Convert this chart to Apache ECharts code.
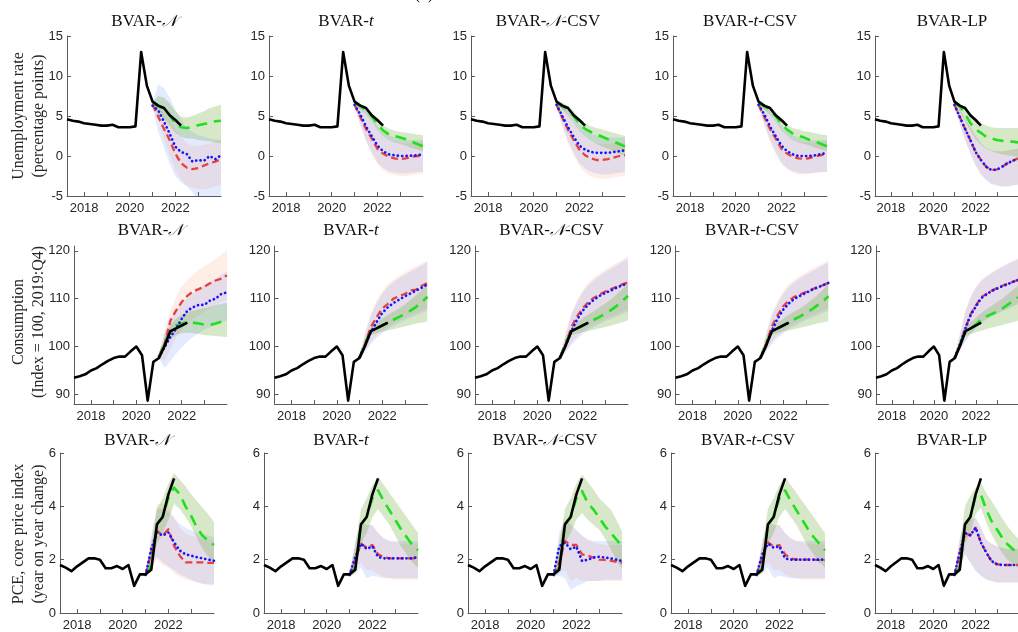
<!DOCTYPE html>
<html>
<head>
<meta charset="utf-8">
<script src="https://cdn.jsdelivr.net/npm/echarts@6/dist/echarts.min.js"></script>
<style>
  html, body { margin: 0; padding: 0; background: #fff; }
  #chart { width: 1018px; height: 632px; }
</style>
</head>
<body>
<div id="chart"></div>
<script>
// ---------- Data ----------
const models = ['BVAR-{cal|𝒩}', 'BVAR-{it|t}', 'BVAR-{cal|𝒩}-CSV', 'BVAR-{it|t}-CSV', 'BVAR-LP'];

// Observed quarters and forecast quarters
const histQuarters = ['2017Q1','2017Q2','2017Q3','2017Q4','2018Q1','2018Q2','2018Q3','2018Q4',
  '2019Q1','2019Q2','2019Q3','2019Q4','2020Q1','2020Q2','2020Q3','2020Q4',
  '2021Q1','2021Q2','2021Q3','2021Q4','2022Q1'];
const fcQuarters = ['2020Q4','2021Q1','2021Q2','2021Q3','2021Q4','2022Q1','2022Q2','2022Q3',
  '2022Q4','2023Q1','2023Q2','2023Q3','2023Q4'];

const xLabelYears = [2018, 2020, 2022];
const xTickYears = [2018, 2019, 2020, 2021, 2022, 2023];

// Unemployment rate
const unempActual = [4.6, 4.4, 4.3, 4.1, 4.0, 3.9, 3.8, 3.8, 3.9, 3.6, 3.6, 3.6, 3.7, 13.0, 8.8, 6.8, 6.3, 6.0, 5.1, 4.5, 3.8];
const unempRed = [
  [6.4, 4.9, 3.4, 2.0, 0.3, -0.9, -1.45, -1.65, -1.5, -1.2, -0.9, -0.7, -0.4],
  [6.4, 4.9, 3.4, 2.2, 0.9, 0.3, -0.1, -0.3, -0.4, -0.3, -0.1, 0.0, 0.0],
  [6.4, 4.8, 3.3, 2.0, 0.8, 0.1, -0.3, -0.5, -0.5, -0.4, -0.2, 0.0, 0.1],
  [6.4, 4.9, 3.4, 2.2, 0.9, 0.3, -0.1, -0.3, -0.35, -0.25, -0.05, 0.1, 0.3],
  [6.4, 4.9, 3.4, 2.0, 0.5, -0.5, -1.35, -1.75, -1.7, -1.35, -0.9, -0.6, -0.3]
];
const unempBlue = [
  [6.3, 5.7, 4.3, 2.8, 1.15, 0.5, 0.25, -0.7, -0.5, -0.6, 0.0, -0.4, 0.1],
  [6.4, 5.2, 3.7, 2.5, 1.3, 0.6, 0.2, 0.1, 0.0, 0.0, 0.05, 0.1, 0.2],
  [6.4, 5.0, 3.6, 2.4, 1.3, 0.8, 0.5, 0.4, 0.4, 0.4, 0.5, 0.6, 0.7],
  [6.4, 5.2, 3.7, 2.5, 1.3, 0.6, 0.2, 0.0, 0.0, 0.0, 0.1, 0.25, 0.4],
  [6.4, 4.9, 3.4, 2.0, 0.5, -0.5, -1.35, -1.75, -1.7, -1.35, -0.9, -0.6, -0.3]
];
const unempGreen = [
  [6.6, 6.2, 5.9, 5.1, 4.0, 3.6, 3.5, 3.65, 3.85, 4.0, 4.1, 4.35, 4.4],
  [6.6, 6.2, 5.8, 5.0, 4.0, 3.2, 2.7, 2.5, 2.3, 2.1, 1.8, 1.5, 1.2],
  [6.6, 6.2, 5.8, 5.0, 4.0, 3.4, 3.0, 2.7, 2.4, 2.1, 1.8, 1.5, 1.2],
  [6.6, 6.2, 5.8, 5.0, 4.0, 3.3, 2.8, 2.5, 2.3, 2.0, 1.8, 1.5, 1.2],
  [6.6, 6.2, 5.3, 4.1, 3.3, 2.9, 2.4, 2.2, 2.0, 1.9, 1.8, 1.8, 1.7]
];
const unempGreenHi = [
  [6.7, 7.5, 7.3, 6.6, 5.6, 4.9, 4.8, 5.0, 5.3, 5.6, 6.0, 6.2, 6.4],
  [6.7, 6.5, 6.2, 5.5, 4.5, 3.8, 3.4, 3.2, 3.0, 2.9, 2.8, 2.7, 2.6],
  [6.7, 6.6, 6.3, 5.6, 4.7, 4.1, 3.7, 3.5, 3.3, 3.1, 2.9, 2.7, 2.5],
  [6.7, 6.5, 6.2, 5.5, 4.5, 3.9, 3.5, 3.3, 3.1, 3.0, 2.8, 2.7, 2.6],
  [6.7, 6.5, 6.0, 5.3, 4.6, 4.1, 3.8, 3.6, 3.5, 3.5, 3.5, 3.5, 3.5]
];
const unempGreenLo = [
  [6.5, 5.2, 4.6, 3.8, 2.9, 2.4, 2.2, 2.2, 2.0, 1.9, 1.8, 1.7, 1.6],
  [6.5, 5.8, 5.2, 4.3, 3.2, 2.5, 2.0, 1.7, 1.5, 1.3, 1.0, 0.8, 0.6],
  [6.5, 5.8, 5.1, 4.2, 3.1, 2.4, 1.9, 1.5, 1.2, 0.9, 0.6, 0.3, 0.0],
  [6.5, 5.8, 5.2, 4.3, 3.2, 2.5, 2.0, 1.7, 1.5, 1.3, 1.0, 0.8, 0.6],
  [6.5, 5.6, 4.4, 3.2, 2.1, 1.4, 0.9, 0.6, 0.4, 0.2, 0.1, 0.0, -0.1]
];
const unempRedHi = [
  [6.5, 6.5, 5.6, 4.5, 3.3, 2.4, 1.6, 1.3, 1.3, 1.4, 1.6, 1.8, 2.0],
  [6.5, 6.2, 5.3, 4.3, 3.2, 2.5, 2.1, 1.8, 1.6, 1.6, 1.6, 1.7, 1.8],
  [6.5, 6.2, 5.3, 4.2, 3.1, 2.3, 1.8, 1.6, 1.5, 1.5, 1.6, 1.7, 1.8],
  [6.5, 6.2, 5.3, 4.3, 3.2, 2.5, 2.1, 1.8, 1.7, 1.7, 1.7, 1.8, 1.9],
  [6.5, 5.8, 4.7, 3.6, 2.5, 1.6, 1.0, 0.7, 0.6, 0.6, 0.7, 0.8, 0.9]
];
const unempRedLo = [
  [6.2, 4.5, 2.0, 0.0, -1.8, -3.0, -3.7, -4.0, -4.2, -4.2, -4.0, -3.8, -3.6],
  [6.2, 3.8, 1.8, 0.2, -1.0, -1.8, -2.2, -2.4, -2.5, -2.5, -2.4, -2.3, -2.2],
  [6.2, 3.7, 1.6, 0.0, -1.3, -2.1, -2.6, -2.8, -2.8, -2.8, -2.7, -2.6, -2.5],
  [6.2, 3.8, 1.8, 0.2, -1.0, -1.7, -2.1, -2.3, -2.3, -2.2, -2.1, -2.0, -2.0],
  [6.3, 4.0, 2.0, 0.3, -1.2, -2.3, -3.0, -3.5, -3.7, -3.8, -3.8, -3.7, -3.6]
];
const unempBlueHi = [
  [6.5, 9.0, 8.5, 7.3, 5.8, 4.6, 3.5, 3.0, 2.6, 2.4, 2.2, 2.1, 2.0],
  [6.5, 6.5, 5.8, 4.8, 3.8, 3.0, 2.6, 2.3, 2.1, 2.0, 2.0, 2.0, 2.0],
  [6.5, 6.8, 6.0, 5.0, 4.0, 3.3, 2.8, 2.6, 2.4, 2.3, 2.3, 2.3, 2.3],
  [6.5, 6.5, 5.8, 4.8, 3.8, 3.0, 2.6, 2.3, 2.1, 2.0, 2.0, 2.0, 2.0],
  [6.5, 5.8, 4.7, 3.6, 2.5, 1.6, 1.0, 0.7, 0.6, 0.6, 0.7, 0.8, 0.9]
];
const unempBlueLo = [
  [6.1, 3.0, 1.0, -1.0, -2.5, -3.3, -3.8, -4.5, -5.5, -5.8, -5.5, -5.3, -5.2],
  [6.2, 4.0, 2.0, 0.5, -0.8, -1.5, -1.9, -2.1, -2.2, -2.2, -2.1, -2.0, -2.0],
  [6.2, 3.9, 1.9, 0.4, -0.9, -1.6, -2.0, -2.2, -2.3, -2.3, -2.2, -2.1, -2.0],
  [6.2, 4.0, 2.0, 0.5, -0.8, -1.5, -1.9, -2.1, -2.2, -2.2, -2.1, -2.0, -2.0],
  [6.3, 4.0, 2.0, 0.3, -1.2, -2.3, -3.0, -3.5, -3.7, -3.8, -3.8, -3.7, -3.6]
];

// Consumption index (2019:Q4 = 100)
const consActual = [93.5, 93.8, 94.2, 95.0, 95.5, 96.3, 97.0, 97.6, 97.9, 97.9, 99.0, 100.0, 98.2, 88.7, 96.8, 97.6, 100.2, 103.2, 103.8, 104.4, 105.0];
const consRed = [
  [98.0, 100.6, 105.4, 107.5, 109.3, 110.6, 111.5, 112.0, 112.5, 113.2, 113.8, 114.2, 114.9],
  [97.8, 100.6, 104.1, 106.1, 107.9, 108.9, 110.0, 110.5, 111.0, 111.7, 111.9, 112.7, 113.3],
  [97.8, 100.5, 104.0, 106.3, 108.0, 109.3, 110.2, 110.9, 111.5, 112.0, 112.5, 113.0, 113.4],
  [97.8, 100.6, 104.2, 106.5, 108.4, 109.6, 110.4, 110.9, 111.4, 111.9, 112.4, 112.8, 113.3],
  [97.8, 100.6, 103.9, 106.8, 108.6, 110.3, 111.0, 111.7, 112.2, 112.7, 113.1, 113.5, 113.9]
];
const consBlue = [
  [97.9, 99.9, 102.0, 103.7, 105.8, 107.5, 108.2, 108.7, 108.7, 109.6, 110.0, 111.0, 111.3],
  [97.8, 100.3, 103.0, 105.1, 107.0, 108.2, 109.1, 109.8, 110.5, 111.1, 111.7, 112.3, 113.0],
  [97.8, 100.2, 103.2, 105.6, 107.5, 108.8, 109.8, 110.6, 111.2, 111.7, 112.3, 112.8, 113.2],
  [97.8, 100.3, 103.3, 105.8, 107.7, 109.0, 110.0, 110.6, 111.2, 111.8, 112.3, 112.8, 113.3],
  [97.8, 100.5, 103.8, 106.6, 108.4, 110.1, 110.9, 111.6, 112.1, 112.6, 113.0, 113.5, 113.9]
];
const consGreen = [
  [97.8, 100.9, 103.4, 104.4, 104.8, 105.1, 105.0, 104.8, 104.6, 104.5, 104.8, 105.2, 105.4],
  [97.6, 100.9, 103.2, 103.7, 104.4, 105.0, 105.6, 106.2, 106.8, 107.5, 108.3, 109.3, 110.4],
  [97.6, 100.9, 103.2, 103.7, 104.4, 105.0, 105.6, 106.2, 106.9, 107.6, 108.5, 109.5, 110.6],
  [97.6, 100.9, 103.2, 103.7, 104.4, 105.1, 105.7, 106.3, 107.0, 107.7, 108.6, 109.5, 110.5],
  [97.6, 100.9, 103.0, 103.8, 104.6, 105.8, 106.3, 106.8, 107.3, 107.9, 108.7, 109.5, 110.3]
];
const consGreenHi = [
  [98.2, 101.8, 104.6, 105.8, 106.6, 107.2, 107.5, 107.8, 108.0, 108.3, 108.6, 108.9, 109.2],
  [97.8, 101.5, 104.0, 105.0, 105.8, 106.6, 107.3, 108.0, 108.8, 109.7, 110.7, 111.8, 113.3],
  [97.8, 101.5, 104.0, 105.0, 105.9, 106.7, 107.4, 108.2, 109.0, 109.9, 110.9, 112.0, 113.3],
  [97.8, 101.5, 104.0, 105.0, 105.8, 106.6, 107.3, 108.0, 108.8, 109.7, 110.7, 111.8, 113.2],
  [97.8, 101.5, 104.0, 105.0, 106.0, 107.0, 107.8, 108.5, 109.3, 110.0, 110.9, 111.8, 112.7]
];
const consGreenLo = [
  [97.4, 99.6, 101.6, 102.4, 102.8, 102.9, 102.8, 102.6, 102.4, 102.3, 102.2, 102.1, 102.0],
  [97.4, 100.2, 102.4, 102.8, 103.1, 103.4, 103.6, 103.9, 104.2, 104.5, 104.8, 105.0, 105.3],
  [97.4, 100.2, 102.3, 102.7, 103.0, 103.3, 103.5, 103.8, 104.1, 104.4, 104.7, 105.1, 105.5],
  [97.4, 100.2, 102.4, 102.8, 103.1, 103.4, 103.6, 103.9, 104.2, 104.5, 104.8, 105.0, 105.3],
  [97.4, 100.2, 102.2, 102.6, 103.0, 103.3, 103.6, 103.9, 104.2, 104.5, 104.8, 105.1, 105.4]
];
const consRedHi = [
  [98.5, 103.5, 107.5, 110.5, 112.5, 114.0, 115.0, 116.0, 116.8, 117.5, 118.3, 119.2, 120.0],
  [98.0, 103.0, 107.0, 109.6, 111.5, 113.0, 114.0, 114.8, 115.5, 116.2, 116.8, 117.4, 118.0],
  [98.0, 103.0, 107.0, 109.8, 111.8, 113.3, 114.4, 115.3, 116.1, 116.8, 117.5, 118.2, 118.9],
  [98.0, 103.0, 107.0, 109.6, 111.5, 113.0, 114.0, 114.8, 115.5, 116.2, 116.8, 117.4, 118.0],
  [98.0, 103.0, 107.5, 110.6, 112.6, 114.0, 114.8, 115.5, 116.2, 116.8, 117.4, 117.9, 118.4]
];
const consRedLo = [
  [97.5, 97.0, 99.5, 101.8, 103.5, 104.8, 105.8, 106.5, 107.3, 108.0, 108.6, 109.2, 109.8],
  [97.2, 99.2, 101.0, 102.3, 103.3, 104.1, 104.8, 105.4, 106.0, 106.5, 107.0, 107.5, 108.0],
  [97.2, 99.0, 100.8, 102.1, 103.1, 103.9, 104.6, 105.2, 105.8, 106.3, 106.8, 107.3, 107.8],
  [97.2, 99.2, 101.0, 102.3, 103.3, 104.1, 104.8, 105.4, 106.0, 106.5, 107.0, 107.5, 108.0],
  [97.2, 99.3, 101.3, 102.8, 104.0, 105.0, 105.8, 106.4, 107.0, 107.5, 108.0, 108.5, 109.0]
];
const consBlueHi = [
  [98.5, 103.0, 105.5, 107.5, 109.0, 110.2, 111.2, 112.0, 112.8, 113.5, 114.2, 115.0, 115.8],
  [98.0, 102.5, 106.5, 109.0, 111.0, 112.5, 113.5, 114.3, 115.0, 115.7, 116.3, 117.0, 117.6],
  [98.0, 102.5, 106.5, 109.2, 111.3, 112.8, 113.9, 114.8, 115.6, 116.3, 117.0, 117.7, 118.4],
  [98.0, 102.5, 106.5, 109.0, 111.0, 112.5, 113.5, 114.3, 115.0, 115.7, 116.3, 117.0, 117.6],
  [98.0, 102.8, 107.2, 110.3, 112.3, 113.7, 114.6, 115.3, 116.0, 116.6, 117.2, 117.7, 118.2]
];
const consBlueLo = [
  [97.5, 95.5, 97.0, 98.5, 99.8, 101.0, 102.0, 102.8, 103.5, 104.0, 104.5, 105.0, 105.5],
  [97.2, 99.0, 100.5, 101.8, 102.8, 103.6, 104.3, 104.9, 105.5, 106.0, 106.5, 107.0, 107.5],
  [97.2, 98.8, 100.3, 101.6, 102.6, 103.4, 104.1, 104.7, 105.3, 105.8, 106.3, 106.8, 107.3],
  [97.2, 99.0, 100.5, 101.8, 102.8, 103.6, 104.3, 104.9, 105.5, 106.0, 106.5, 107.0, 107.5],
  [97.2, 99.2, 101.1, 102.6, 103.8, 104.8, 105.6, 106.2, 106.8, 107.3, 107.8, 108.3, 108.8]
];

// PCE core price index, year-on-year change
const pceActual = [1.8, 1.7, 1.57, 1.75, 1.9, 2.05, 2.05, 2.0, 1.68, 1.68, 1.76, 1.65, 1.8, 1.02, 1.45, 1.45, 1.62, 3.33, 3.6, 4.45, 5.05];
const pceRed = [
  [1.43, 2.27, 3.08, 2.9, 3.14, 2.52, 2.15, 1.9, 1.9, 1.9, 1.9, 1.88, 1.88],
  [1.43, 2.0, 2.6, 2.45, 2.55, 2.2, 2.1, 2.05, 2.05, 2.05, 2.05, 2.05, 2.05],
  [1.43, 1.9, 2.7, 2.55, 2.55, 2.2, 2.15, 2.08, 2.0, 1.99, 1.96, 1.92, 1.88],
  [1.43, 2.1, 2.65, 2.5, 2.55, 2.2, 2.05, 2.0, 2.0, 2.0, 2.0, 1.98, 1.98],
  [1.43, 2.26, 3.0, 2.91, 3.2, 2.64, 2.27, 1.95, 1.83, 1.8, 1.8, 1.8, 1.8]
];
const pceBlue = [
  [1.43, 2.4, 3.02, 2.9, 3.02, 2.65, 2.34, 2.2, 2.15, 2.09, 2.05, 2.0, 1.96],
  [1.43, 2.1, 2.6, 2.4, 2.5, 2.1, 2.05, 2.05, 2.05, 2.05, 2.05, 2.05, 2.1],
  [1.43, 2.5, 2.64, 2.39, 2.49, 1.95, 2.0, 2.08, 2.11, 2.08, 2.05, 2.0, 1.95],
  [1.43, 2.2, 2.6, 2.45, 2.5, 2.05, 2.0, 2.0, 2.0, 2.0, 2.0, 2.0, 2.0],
  [1.43, 2.26, 3.0, 2.91, 3.2, 2.64, 2.27, 1.95, 1.83, 1.8, 1.8, 1.8, 1.8]
];
const pceGreen = [
  [1.43, 1.8, 3.33, 3.6, 4.32, 4.7, 4.45, 4.0, 3.64, 3.2, 2.9, 2.7, 2.55],
  [1.43, 1.7, 3.3, 3.6, 4.3, 4.6, 4.2, 3.85, 3.5, 3.15, 2.85, 2.55, 2.35],
  [1.43, 1.7, 3.3, 3.6, 4.3, 4.57, 4.13, 3.88, 3.57, 3.26, 3.01, 2.76, 2.5],
  [1.43, 1.7, 3.3, 3.6, 4.3, 4.6, 4.2, 3.85, 3.5, 3.15, 2.85, 2.6, 2.35],
  [1.43, 1.7, 3.3, 3.6, 4.4, 4.44, 3.88, 3.45, 3.14, 2.83, 2.58, 2.4, 2.25]
];
const pceGreenHi = [
  [1.5, 2.5, 3.9, 4.3, 4.85, 5.25, 5.0, 4.75, 4.45, 4.2, 3.95, 3.7, 3.4],
  [1.5, 2.5, 3.9, 4.3, 4.8, 5.1, 4.8, 4.5, 4.2, 3.9, 3.6, 3.3, 3.0],
  [1.5, 2.5, 3.9, 4.3, 4.85, 5.19, 4.9, 4.63, 4.3, 4.1, 3.88, 3.5, 3.07],
  [1.5, 2.5, 3.9, 4.3, 4.8, 5.1, 4.8, 4.5, 4.2, 3.9, 3.6, 3.3, 3.0],
  [1.5, 2.5, 4.0, 4.4, 4.7, 4.88, 4.5, 4.2, 3.88, 3.55, 3.26, 3.0, 2.8]
];
const pceGreenLo = [
  [1.35, 1.6, 2.6, 3.0, 3.5, 4.1, 3.9, 3.6, 3.25, 2.8, 2.4, 2.1, 1.85],
  [1.35, 1.5, 2.6, 3.0, 3.6, 3.9, 3.6, 3.3, 2.9, 2.5, 2.2, 1.9, 1.7],
  [1.35, 1.5, 2.6, 3.0, 3.5, 3.75, 3.5, 3.3, 3.13, 2.8, 2.4, 2.0, 1.64],
  [1.35, 1.5, 2.6, 3.0, 3.6, 3.9, 3.6, 3.3, 2.9, 2.5, 2.2, 1.9, 1.7],
  [1.35, 1.5, 2.6, 3.0, 3.7, 3.95, 3.4, 2.95, 2.58, 2.25, 2.0, 1.85, 1.7]
];
const pceRedHi = [
  [1.5, 2.8, 4.1, 4.1, 4.0, 3.6, 3.2, 3.0, 2.9, 2.85, 2.8, 2.75, 2.7],
  [1.5, 2.6, 3.4, 3.3, 3.3, 3.0, 2.8, 2.7, 2.65, 2.6, 2.6, 2.6, 2.6],
  [1.5, 2.8, 3.6, 3.4, 3.1, 2.9, 2.75, 2.65, 2.6, 2.55, 2.55, 2.55, 2.55],
  [1.5, 2.6, 3.4, 3.3, 3.3, 3.0, 2.8, 2.7, 2.65, 2.6, 2.6, 2.6, 2.6],
  [1.5, 2.8, 3.5, 3.5, 3.57, 3.2, 2.76, 2.6, 2.51, 2.45, 2.4, 2.4, 2.4]
];
const pceRedLo = [
  [1.35, 1.7, 2.0, 1.8, 1.7, 1.5, 1.35, 1.25, 1.2, 1.15, 1.1, 1.1, 1.1],
  [1.35, 1.6, 1.9, 1.6, 1.6, 1.45, 1.35, 1.3, 1.25, 1.25, 1.25, 1.25, 1.25],
  [1.35, 1.5, 1.6, 1.2, 1.3, 1.2, 1.2, 1.2, 1.2, 1.2, 1.2, 1.2, 1.2],
  [1.35, 1.6, 1.9, 1.6, 1.6, 1.45, 1.35, 1.3, 1.25, 1.25, 1.25, 1.25, 1.25],
  [1.35, 1.7, 2.2, 1.9, 1.58, 1.4, 1.26, 1.2, 1.14, 1.14, 1.14, 1.14, 1.14]
];
const pceBlueHi = [
  [1.5, 2.9, 3.9, 3.9, 3.8, 3.55, 3.35, 3.2, 3.1, 3.0, 2.95, 2.9, 2.85],
  [1.5, 2.7, 3.4, 3.3, 3.3, 3.0, 2.8, 2.7, 2.7, 2.7, 2.7, 2.7, 2.7],
  [1.5, 3.0, 3.5, 3.3, 3.1, 2.9, 2.75, 2.7, 2.7, 2.7, 2.7, 2.7, 2.7],
  [1.5, 2.7, 3.4, 3.3, 3.3, 3.0, 2.8, 2.7, 2.7, 2.7, 2.7, 2.7, 2.7],
  [1.5, 2.8, 3.5, 3.5, 3.57, 3.2, 2.76, 2.6, 2.51, 2.45, 2.4, 2.4, 2.4]
];
const pceBlueLo = [
  [1.35, 1.8, 2.1, 1.9, 1.75, 1.6, 1.45, 1.35, 1.25, 1.15, 1.1, 1.05, 1.03],
  [1.35, 1.5, 1.7, 1.3, 1.4, 1.35, 1.3, 1.3, 1.3, 1.3, 1.3, 1.3, 1.3],
  [1.35, 1.4, 1.3, 0.85, 1.0, 1.1, 1.2, 1.2, 1.2, 1.25, 1.25, 1.25, 1.25],
  [1.35, 1.5, 1.7, 1.3, 1.4, 1.35, 1.3, 1.3, 1.3, 1.3, 1.3, 1.3, 1.3],
  [1.35, 1.7, 2.2, 1.9, 1.58, 1.4, 1.26, 1.2, 1.14, 1.14, 1.14, 1.14, 1.14]
];

// ---------- Layout of the three rows ----------
const rows = [
  { top: 36, height: 160, width: 154, lefts: [67, 269, 471, 673, 875],
    yMin: -5, yMax: 15, yTicks: [-5, 0, 5, 10, 15], titleY: 22, nameY: 116,
    name: 'Unemployment rate\n(percentage points)',
    actual: unempActual, red: unempRed, blue: unempBlue, green: unempGreen,
    greenHi: unempGreenHi, greenLo: unempGreenLo, redHi: unempRedHi, redLo: unempRedLo,
    blueHi: unempBlueHi, blueLo: unempBlueLo },
  { top: 246, height: 158, width: 153, lefts: [74, 274.5, 475, 675.5, 876],
    yMin: 88, yMax: 121, yTicks: [90, 100, 110, 120], titleY: 231, nameY: 322,
    name: 'Consumption\n(Index = 100, 2019:Q4)',
    actual: consActual, red: consRed, blue: consBlue, green: consGreen,
    greenHi: consGreenHi, greenLo: consGreenLo, redHi: consRedHi, redLo: consRedLo,
    blueHi: consBlueHi, blueLo: consBlueLo },
  { top: 453, height: 161, width: 154, lefts: [60, 264, 468, 671, 875],
    yMin: 0, yMax: 6, yTicks: [0, 2, 4, 6], titleY: 441, nameY: 534,
    name: 'PCE, core price index\n(year on year change)',
    actual: pceActual, red: pceRed, blue: pceBlue, green: pceGreen,
    greenHi: pceGreenHi, greenLo: pceGreenLo, redHi: pceRedHi, redLo: pceRedLo,
    blueHi: pceBlueHi, blueLo: pceBlueLo }
];

const toYear = q => parseInt(q.slice(0, 4), 10) + parseInt(q.slice(5), 10) / 4;
const histX = histQuarters.map(toYear);
const fcX = fcQuarters.map(toYear);
const pairs = (xs, ys) => xs.map((x, i) => [x, ys[i]]);

const AXIS_COLOR = '#5a5a5a';
const LABEL_COLOR = '#262626';
const SANS = '"Liberation Sans", Arial, sans-serif';
const SERIF = '"Liberation Serif", "DejaVu Serif", serif';

const C_RED = '#e8403c', C_BLUE = '#1414ff', C_GREEN = '#1ee01e';
const B_RED = 'rgba(255,120,80,0.13)';
const B_BLUE = 'rgba(70,115,245,0.14)';
const B_GREEN = 'rgba(95,165,40,0.25)';

// Shaded band between two bounds, drawn as one polygon through the panel's axes
function band(idx, lo, hi, fill, z) {
  const data = fcX.map((x, i) => [x, lo[i], hi[i]]);
  return {
    type: 'custom', xAxisIndex: idx, yAxisIndex: idx, silent: true, z: z,
    data: data, encode: { x: 0, y: [1, 2] },
    renderItem: function (params, api) {
      if (params.dataIndex !== 0) return null;
      const upper = data.map(d => api.coord([d[0], d[2]]));
      const lower = data.map(d => api.coord([d[0], d[1]])).reverse();
      const cs = params.coordSys;
      return {
        type: 'polygon',
        shape: { points: upper.concat(lower) },
        style: { fill: fill },
        clipPath: { type: 'rect', shape: { x: cs.x, y: cs.y, width: cs.width, height: cs.height } }
      };
    }
  };
}

function line(idx, xs, ys, color, width, dash, z, cap) {
  return {
    type: 'line', xAxisIndex: idx, yAxisIndex: idx, data: pairs(xs, ys),
    symbol: 'none', silent: true, z: z, animation: false,
    lineStyle: { color: color, width: width, type: dash, cap: cap || 'butt', join: 'round' }
  };
}

const grids = [], xAxes = [], yAxes = [], series = [], graphics = [];

rows.forEach((row, r) => {
  models.forEach((title, c) => {
    const idx = r * 5 + c;
    const left = row.lefts[c];
    grids.push({ left: left, top: row.top, width: row.width, height: row.height });
    xAxes.push({
      type: 'value', gridIndex: idx, min: 2017.25, max: 2024,
      axisLine: { onZero: false, lineStyle: { color: AXIS_COLOR, width: 1 } },
      axisTick: { inside: true, length: 4, lineStyle: { color: AXIS_COLOR }, customValues: xTickYears },
      axisLabel: { customValues: xLabelYears, color: LABEL_COLOR, fontFamily: SANS, fontSize: 13, margin: 6,
                   formatter: v => String(v) },
      splitLine: { show: false }
    });
    yAxes.push({
      type: 'value', gridIndex: idx, min: row.yMin, max: row.yMax,
      axisLine: { show: true, onZero: false, lineStyle: { color: AXIS_COLOR, width: 1 } },
      axisTick: { show: true, inside: true, length: 4, lineStyle: { color: AXIS_COLOR }, customValues: row.yTicks },
      axisLabel: { customValues: row.yTicks, color: LABEL_COLOR, fontFamily: SANS, fontSize: 13, margin: 4 },
      splitLine: { show: false }
    });

    series.push(band(idx, row.redLo[c], row.redHi[c], B_RED, 1));
    series.push(band(idx, row.blueLo[c], row.blueHi[c], B_BLUE, 1));
    series.push(band(idx, row.greenLo[c], row.greenHi[c], B_GREEN, 1));
    series.push(line(idx, fcX, row.green[c], C_GREEN, 2.6, [11, 7], 3));
    series.push(line(idx, fcX, row.red[c], C_RED, 2.3, [7, 4], 4));
    series.push(line(idx, fcX, row.blue[c], C_BLUE, 2.7, [0.1, 4.3], 5, 'round'));
    series.push(line(idx, histX, row.actual, '#000000', 2.6, 'solid', 6));

    graphics.push({
      type: 'text', x: left + row.width / 2, y: row.titleY, silent: true,
      style: {
        text: title, fill: '#111', fontFamily: SERIF, fontSize: 17,
        align: 'center', verticalAlign: 'middle',
        rich: {
          it: { fontFamily: SERIF, fontStyle: 'italic', fontSize: 17, fill: '#111' },
          cal: { fontFamily: '"DejaVu Serif", "DejaVu Sans", serif', fontStyle: 'italic', fontSize: 16, fill: '#111' }
        }
      }
    });
  });

  graphics.push({
    type: 'text', x: 29, y: row.nameY, rotation: Math.PI / 2, silent: true,
    style: {
      text: row.name, fill: LABEL_COLOR, fontFamily: SERIF, fontSize: 16, lineHeight: 20,
      align: 'center', verticalAlign: 'middle'
    }
  });
});

// Panel letter above the middle column (partly outside the canvas)
graphics.push({
  type: 'text', x: 424, y: 3, silent: true,
  style: { text: '(a)', fill: '#111', fontFamily: SERIF, fontSize: 17, align: 'center', verticalAlign: 'bottom' }
});

const chart = echarts.init(document.getElementById('chart'), null, { renderer: 'canvas' });
chart.setOption({
  animation: false,
  backgroundColor: '#ffffff',
  grid: grids,
  xAxis: xAxes,
  yAxis: yAxes,
  series: series,
  graphic: graphics
});
</script>
</body>
</html>
